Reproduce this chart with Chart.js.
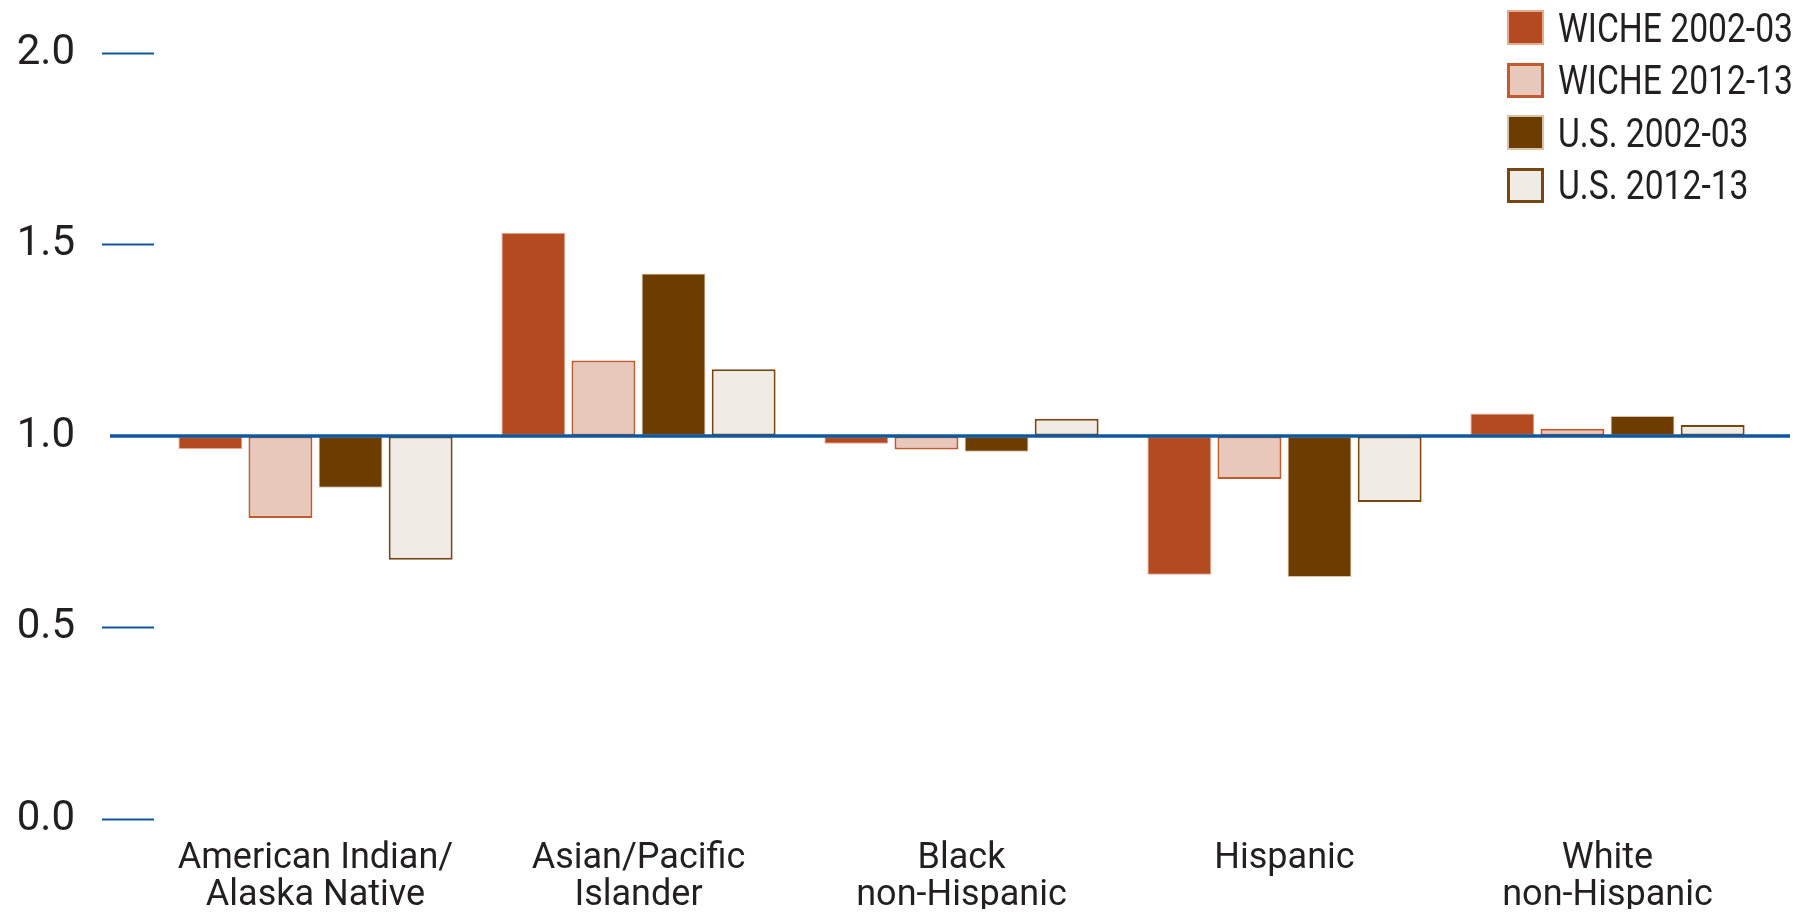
<!DOCTYPE html>
<html>
<head>
<meta charset="utf-8">
<script src="https://cdn.jsdelivr.net/npm/chart.js@4.4.1/dist/chart.umd.min.js"></script>
<style>
  html, body { margin: 0; padding: 0; background: #fff; }
  #wrap { position: relative; width: 1796px; height: 919px; }
  #legend { position: absolute; left: 1507px; top: 10px; font-family: Roboto, sans-serif; font-size: 41px; color: #231f20; }
  .legend-row { display: flex; align-items: center; height: 35px; margin-bottom: 17.5px; white-space: nowrap; }
  .legend-box { flex: none; width: 37px; height: 35px; box-sizing: border-box; margin-right: 14px; }
  .legend-text { display: inline-block; transform: scaleX(0.82); transform-origin: left center; }
</style>
</head>
<body>
<div id="wrap">
  <canvas id="chart" width="1796" height="919"></canvas>
  <div id="legend"></div>
</div>
<script>
const CATEGORIES = [
  ["American Indian/", "Alaska Native"],
  ["Asian/Pacific", "Islander"],
  ["Black", "non-Hispanic"],
  "Hispanic",
  ["White", "non-Hispanic"],
];
const WICHE_0203 = [0.966, 1.531, 0.980, 0.638, 1.059];
const WICHE_1213 = [0.786, 1.197, 0.965, 0.888, 1.019];
const US_0203 = [0.865, 1.424, 0.959, 0.632, 1.052];
const US_1213 = [0.677, 1.174, 1.045, 0.828, 1.029];
const Y_TICKS = [0, 0.5, 1.0, 1.5, 2.0];

const BLUE = "#11589b";
const TEXT = "#231f20";

const series = [
  { label: "WICHE 2002-03", data: WICHE_0203, fill: "#b34a20", border: "#e4ab93", width: 1 },
  { label: "WICHE 2012-13", data: WICHE_1213, fill: "#e8c8bb", border: "#c4582f", width: 2 },
  { label: "U.S. 2002-03", data: US_0203, fill: "#6d3d00", border: "#d8c3a6", width: 1 },
  { label: "U.S. 2012-13", data: US_1213, fill: "#f0ebe5", border: "#764711", width: 2 },
];

// parity line drawn over the bars, like the source
const parityLine = {
  id: "parityLine",
  afterDatasetsDraw(chart) {
    const { ctx, chartArea, scales } = chart;
    const y = scales.y.getPixelForValue(1);
    ctx.save();
    ctx.strokeStyle = BLUE;
    ctx.lineWidth = 3.5;
    ctx.beginPath();
    ctx.moveTo(chartArea.left - 44, y);
    ctx.lineTo(chartArea.right + 21, y);
    ctx.stroke();
    ctx.restore();
  },
};

const chart = new Chart(document.getElementById("chart").getContext("2d"), {
  type: "bar",
  data: {
    labels: CATEGORIES,
    datasets: series.map((s) => ({
      label: s.label,
      data: s.data,
      base: 1,
      backgroundColor: s.fill,
      borderColor: s.border,
      borderWidth: s.width,
      borderSkipped: false,
      categoryPercentage: 0.868,
      barPercentage: 0.912,
    })),
  },
  options: {
    responsive: false,
    animation: false,
    devicePixelRatio: 1,
    layout: { padding: { top: 53, right: 27, bottom: 10, left: 4 } },
    plugins: {
      legend: { display: false },
      tooltip: { enabled: false },
    },
    scales: {
      x: {
        offset: true,
        afterFit: (axis) => { axis.height = 90; },
        grid: { display: false },
        border: { display: false },
        ticks: {
          color: TEXT,
          padding: 13,
          maxRotation: 0,
          autoSkip: false,
          font: { family: "Roboto", size: 36, lineHeight: "37px" },
        },
      },
      y: {
        min: 0,
        max: 2,
        afterFit: (axis) => { axis.width = 150; },
        afterBuildTicks: (axis) => { axis.ticks = Y_TICKS.map((v) => ({ value: v })); },
        border: { display: false },
        grid: {
          drawOnChartArea: false,
          drawTicks: true,
          tickLength: 52,
          tickWidth: 2,
          tickColor: (c) => (c.tick && c.tick.value === 1 ? "rgba(0,0,0,0)" : BLUE),
        },
        ticks: {
          color: TEXT,
          padding: 27,
          font: { family: "Roboto", size: 42 },
          callback: (v) => Number(v).toFixed(1),
        },
      },
    },
  },
  plugins: [parityLine],
});

const legend = document.getElementById("legend");
series.forEach((s) => {
  const row = document.createElement("div");
  row.className = "legend-row";
  const box = document.createElement("span");
  box.className = "legend-box";
  box.style.background = s.fill;
  box.style.border = `${s.width + 1}px solid ${s.border}`;
  const text = document.createElement("span");
  text.className = "legend-text";
  text.textContent = s.label;
  row.appendChild(box);
  row.appendChild(text);
  legend.appendChild(row);
});
</script>
</body>
</html>
